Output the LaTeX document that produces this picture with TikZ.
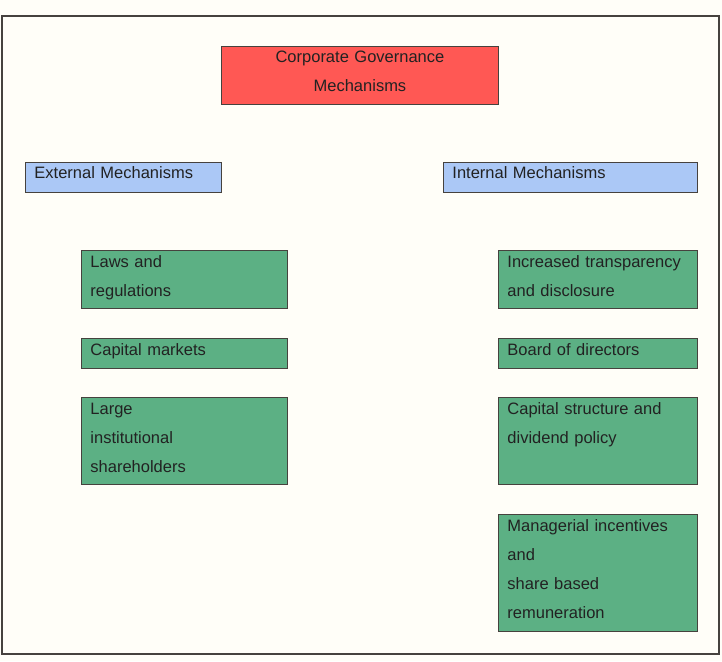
\documentclass[tikz,border=0pt]{standalone}
\usepackage{fontspec}
\setmainfont{Liberation Sans}
\definecolor{paper}{RGB}{255,254,248}
\definecolor{ink}{RGB}{34,34,34}
\definecolor{edge}{RGB}{70,66,62}
\definecolor{govred}{RGB}{255,88,84}
\definecolor{govblue}{RGB}{171,200,246}
\definecolor{govgreen}{RGB}{92,176,132}
\begin{document}
\begin{tikzpicture}[x=1pt, y=-1pt,
  mech/.style={draw=edge, line width=0.9pt, anchor=north west, inner xsep=9pt,
    inner ysep=0pt, text height=17pt, align=left, text=ink,
    font=\fontsize{16.5}{29}\selectfont},
  top/.style={mech, fill=govred, align=center, inner xsep=0pt, text height=16pt},
  side/.style={mech, fill=govblue, text height=16pt},
  item/.style={mech, fill=govgreen}]
  \fill[paper] (0,0) rectangle (722,661);
  \useasboundingbox (0,0) rectangle (722,661);
  \draw[edge, line width=1.4pt] (2,16) rectangle (719,654);
  % title
  \node[top, text width=277pt, text depth=42pt] (cgm) at (221,46) {Corporate Governance\\Mechanisms};
  % two groups
  \node[side, text width=178pt, text depth=14pt] (ext) at (25,162) {External Mechanisms};
  \node[side, text width=236pt, text depth=14pt] (int) at (443,162) {Internal Mechanisms};
  % external
  \node[item, text width=188pt, text depth=41pt] (laws) at (81,250) {Laws and\\regulations};
  \node[item, text width=188pt, text depth=13pt] (markets) at (81,338) {Capital markets};
  \node[item, text width=188pt, text depth=70pt] (holders) at (81,397) {Large\\institutional\\shareholders};
  % internal
  \node[item, text width=181pt, text depth=41pt] (disclose) at (498,250) {Increased transparency\\and disclosure};
  \node[item, text width=181pt, text depth=13pt] (board) at (498,338) {Board of directors};
  \node[item, text width=181pt, text depth=70pt] (dividend) at (498,397) {Capital structure and\\dividend policy};
  \node[item, text width=181pt, text depth=100pt] (incent) at (498,514) {Managerial incentives\\and\\share based\\remuneration};
\end{tikzpicture}
\end{document}
